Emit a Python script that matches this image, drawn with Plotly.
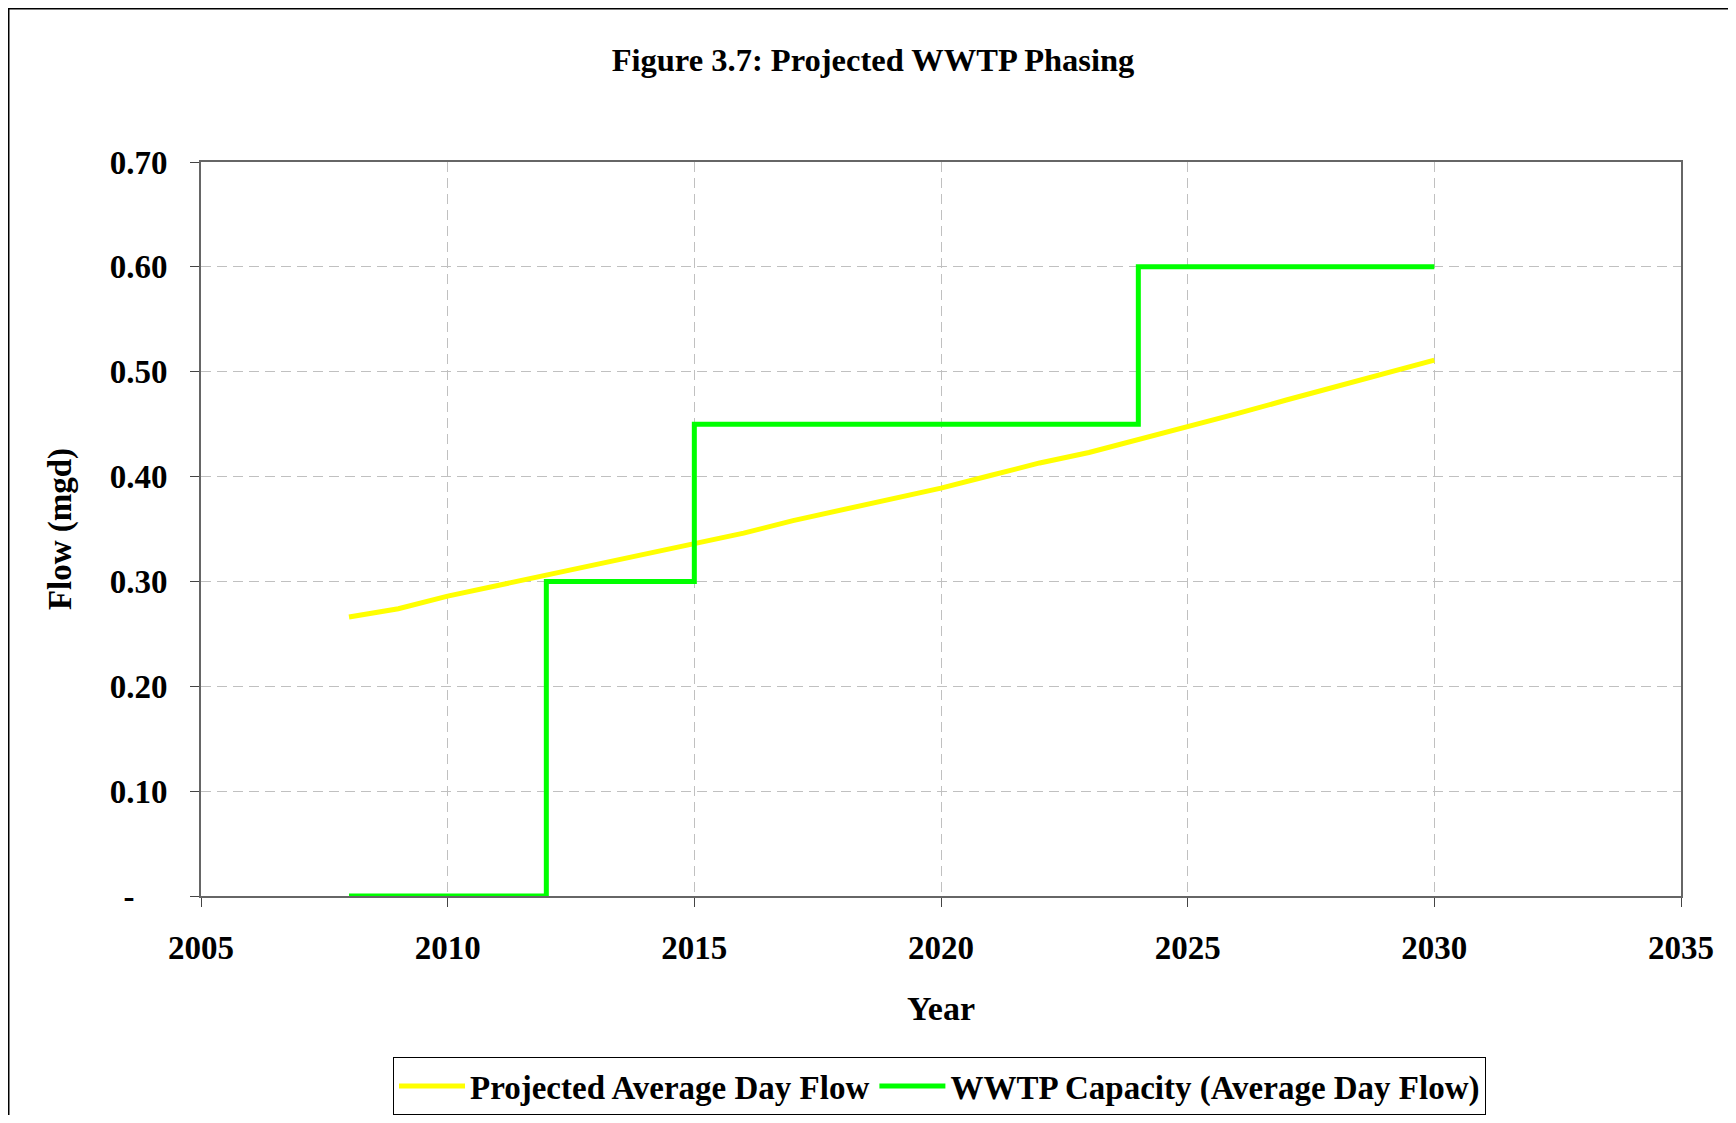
import plotly.graph_objects as go

years = list(range(2008, 2031))
projected_flow = [0.266, 0.274, 0.286, 0.296, 0.306, 0.316, 0.327, 0.337, 0.346,
                  0.358, 0.368, 0.379, 0.389, 0.401, 0.413, 0.423, 0.435, 0.447,
                  0.460, 0.473, 0.486, 0.498, 0.511]
capacity = [0.0, 0.0, 0.0, 0.0, 0.30, 0.30, 0.30, 0.45, 0.45, 0.45, 0.45, 0.45,
            0.45, 0.45, 0.45, 0.45, 0.60, 0.60, 0.60, 0.60, 0.60, 0.60, 0.60]

series_names = ["Projected Average Day Flow", "WWTP Capacity (Average Day Flow)"]
x_ticks = [2005, 2010, 2015, 2020, 2025, 2030, 2035]
y_ticks = [0.0, 0.1, 0.2, 0.3, 0.4, 0.5, 0.6, 0.7]
y_tick_text = ["-\u00a0\u00a0\u00a0\u00a0", "0.10", "0.20", "0.30", "0.40", "0.50", "0.60", "0.70"]

FONT = "Liberation Serif, Times New Roman, serif"

fig = go.Figure()
fig.add_trace(go.Scatter(x=years, y=projected_flow, mode="lines", name=series_names[0],
                         line=dict(color="#FFFF00", width=5)))
fig.add_trace(go.Scatter(x=years, y=capacity, mode="lines", name=series_names[1],
                         line=dict(color="#00FF00", width=5, shape="hv")))

# page body has an 8px margin on every side: size the figure so the page is exactly 1736x1123
OFF = 8
W, H = 1736 - 2 * OFF, 1123 - 2 * OFF
L, R, T, B = 201 - OFF, 1681 - OFF, 162 - OFF, 896 - OFF
pw, ph = R - L, B - T

fig.update_layout(
    width=W, height=H,
    margin=dict(l=L, r=W - R, t=T, b=H - B, pad=0, autoexpand=False),
    paper_bgcolor="white", plot_bgcolor="white",
    font=dict(family=FONT, size=33, color="black", weight="bold"),
    title=dict(text="Figure 3.7: Projected WWTP Phasing", x=(873 - OFF) / W, xanchor="center",
               y=1 - (60 - OFF) / H, yanchor="middle",
               font=dict(family=FONT, size=32.5, color="black", weight="bold")),
    showlegend=True,
    legend=dict(orientation="h", x=(939.5 - OFF - L) / pw, xanchor="center",
                y=-(1057 - OFF - B) / ph, yanchor="top",
                bordercolor="black", borderwidth=1, bgcolor="white",
                itemwidth=66,
                font=dict(family=FONT, size=33, color="black", weight="bold")),
    xaxis=dict(range=[2005, 2035], tickvals=x_ticks, ticktext=[str(v) for v in x_ticks],
               showgrid=True, gridcolor="#c0c0c0", griddash="10px,6px", gridwidth=1,
               showline=True, linecolor="#666666", linewidth=2, mirror=True,
               ticks="outside", ticklen=9, tickcolor="#444444", tickwidth=1,
               ticklabelstandoff=12, zeroline=False, automargin=False,
               tickfont=dict(family=FONT, size=33, color="black", weight="bold"),
               title=dict(text="Year", standoff=32,
                          font=dict(family=FONT, size=34, color="black", weight="bold"))),
    yaxis=dict(range=[0, 0.7], tickvals=y_ticks, ticktext=y_tick_text,
               showgrid=True, gridcolor="#c0c0c0", griddash="10px,6px", gridwidth=1,
               showline=True, linecolor="#666666", linewidth=2, mirror=True,
               ticks="outside", ticklen=9, tickcolor="#444444", tickwidth=1,
               ticklabelstandoff=16, zeroline=False, automargin=False,
               tickfont=dict(family=FONT, size=33, color="black", weight="bold"),
               title=dict(text="Flow (mgd)", standoff=28,
                          font=dict(family=FONT, size=33, color="black", weight="bold"))),
)

# outer chart-area border (extends off right/bottom edges as in the reference)
fig.add_shape(type="rect", xref="paper", yref="paper",
              x0=(0.75 - L) / pw, x1=(W + 20 - L) / pw,
              y0=-(H + 20 - B) / ph, y1=1 + (T - 0.75) / ph,
              line=dict(color="black", width=1.5), fillcolor="rgba(0,0,0,0)", layer="below")

fig.write_html("out.html")
